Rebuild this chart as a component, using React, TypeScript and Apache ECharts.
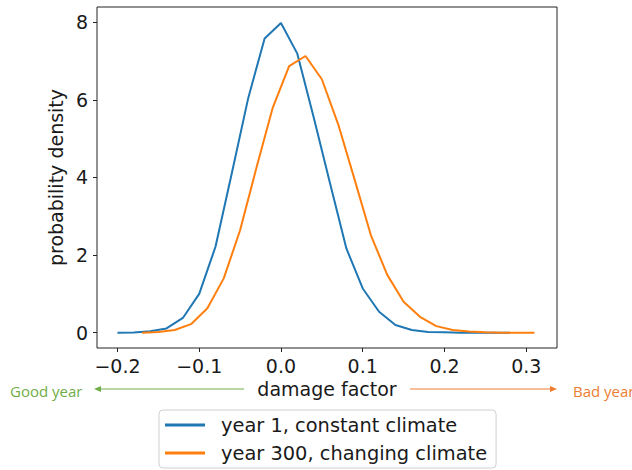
import React, { useEffect, useRef } from "react";
import * as echarts from "echarts";

const blueName = "year 1, constant climate";
const orangeName = "year 300, changing climate";

const blueX = [-0.2, -0.18, -0.16, -0.14, -0.12, -0.1, -0.08, -0.06, -0.04, -0.02, 0, 0.02, 0.04, 0.06, 0.08, 0.1, 0.12, 0.14, 0.16, 0.18, 0.2, 0.22, 0.24, 0.26, 0.28];
const blueY = [0, 0.005, 0.04, 0.11, 0.38, 1.0, 2.22, 4.12, 6.05, 7.58, 7.98, 7.19, 5.55, 3.85, 2.17, 1.14, 0.54, 0.2, 0.07, 0.02, 0.01, 0, 0, 0, 0];

const orangeX = [-0.17, -0.15, -0.13, -0.11, -0.09, -0.07, -0.05, -0.03, -0.01, 0.01, 0.03, 0.05, 0.07, 0.09, 0.11, 0.13, 0.15, 0.17, 0.19, 0.21, 0.23, 0.25, 0.27, 0.29, 0.31];
const orangeY = [0, 0.02, 0.07, 0.22, 0.63, 1.4, 2.64, 4.25, 5.8, 6.87, 7.13, 6.53, 5.37, 3.95, 2.51, 1.49, 0.8, 0.41, 0.17, 0.07, 0.03, 0.01, 0, 0, 0];

const xTicks = [-0.2, -0.1, 0, 0.1, 0.2, 0.3];
const yTicks = [0, 2, 4, 6, 8];

const FONT = "DejaVu Sans";
const FS = 19;

export default function App() {
  const ref = useRef<HTMLDivElement>(null);
  useEffect(() => {
    if (!ref.current) return;
    const chart = echarts.init(ref.current, undefined, { renderer: "svg" });
    const fmtX = (v: number) => {
      const s = Math.abs(v).toFixed(1);
      return v < -1e-9 ? "\u2212" + s : s;
    };
    chart.setOption({
      animation: false,
      backgroundColor: "#ffffff",
      grid: {
        left: 97,
        top: 7,
        width: 460,
        height: 341,
        show: true,
        borderColor: "#222",
        borderWidth: 1,
        backgroundColor: "transparent",
      },
      xAxis: {
        type: "value",
        min: -0.225,
        max: 0.3376,
        name: "damage factor",
        nameLocation: "middle",
        nameGap: 31,
        nameTextStyle: { fontFamily: FONT, fontSize: FS, color: "#1a1a1a" },
        axisLine: { show: false, onZero: false },
        splitLine: { show: false },
        axisTick: {
          show: true,
          length: 4,
          customValues: xTicks,
          lineStyle: { color: "#222", width: 1 },
        },
        axisLabel: {
          customValues: xTicks,
          formatter: fmtX,
          margin: 8,
          fontFamily: FONT,
          fontSize: FS,
          color: "#1a1a1a",
        },
      },
      yAxis: {
        type: "value",
        min: -0.394,
        max: 8.392,
        name: "probability density",
        nameLocation: "middle",
        nameGap: 29,
        nameTextStyle: { fontFamily: FONT, fontSize: FS, color: "#1a1a1a" },
        axisLine: { show: false, onZero: false },
        splitLine: { show: false },
        axisTick: {
          show: true,
          length: 4,
          customValues: yTicks,
          lineStyle: { color: "#222", width: 1 },
        },
        axisLabel: {
          customValues: yTicks,
          formatter: (v: number) => String(v),
          margin: 9,
          fontFamily: FONT,
          fontSize: FS,
          color: "#1a1a1a",
        },
      },
      legend: {
        show: true,
        orient: "vertical",
        left: 159,
        top: 410,
        padding: [5, 9, 5, 6],
        itemWidth: 40,
        itemHeight: 3,
        itemGap: 8,
        icon: "rect",
        borderColor: "#d0d0d0",
        borderWidth: 1,
        borderRadius: 4,
        backgroundColor: "#ffffff",
        textStyle: {
          fontFamily: FONT,
          fontSize: 19.4,
          color: "#1a1a1a",
          lineHeight: 20,
          padding: [0, 0, 0, 11],
        },
        data: [blueName, orangeName],
      },
      graphic: [
        {
          type: "line",
          shape: { x1: 244, y1: 389, x2: 98, y2: 389 },
          style: { stroke: "#70ad47", lineWidth: 1 },
        },
        {
          type: "polygon",
          shape: { points: [[94, 389], [101, 386], [101, 392]] },
          style: { fill: "#70ad47" },
        },
        {
          type: "line",
          shape: { x1: 410, y1: 389, x2: 553, y2: 389 },
          style: { stroke: "#ed7d31", lineWidth: 1 },
        },
        {
          type: "polygon",
          shape: { points: [[557, 389], [550, 386], [550, 392]] },
          style: { fill: "#ed7d31" },
        },
        {
          type: "text",
          x: 10,
          y: 391,
          style: {
            text: "Good year",
            fill: "#70ad47",
            fontFamily: "Open Sans",
            fontSize: 15,
            textVerticalAlign: "middle",
            textAlign: "left",
          },
        },
        {
          type: "text",
          x: 573,
          y: 391,
          style: {
            text: "Bad year",
            fill: "#ed7d31",
            fontFamily: "Open Sans",
            fontSize: 15,
            textVerticalAlign: "middle",
            textAlign: "left",
          },
        },
      ],
      series: [
        {
          name: blueName,
          type: "line",
          data: blueX.map((x, i) => [x, blueY[i]]),
          showSymbol: false,
          symbol: "none",
          lineStyle: { color: "#1f77b4", width: 2 },
          itemStyle: { color: "#1f77b4" },
          z: 2,
        },
        {
          name: orangeName,
          type: "line",
          data: orangeX.map((x, i) => [x, orangeY[i]]),
          showSymbol: false,
          symbol: "none",
          lineStyle: { color: "#ff7f0e", width: 2 },
          itemStyle: { color: "#ff7f0e" },
          z: 3,
        },
      ],
    });
    return () => chart.dispose();
  }, []);
  return (
    <div
      ref={ref}
      style={{ position: "fixed", left: 0, top: 0, width: 632, height: 470 }}
    />
  );
}
